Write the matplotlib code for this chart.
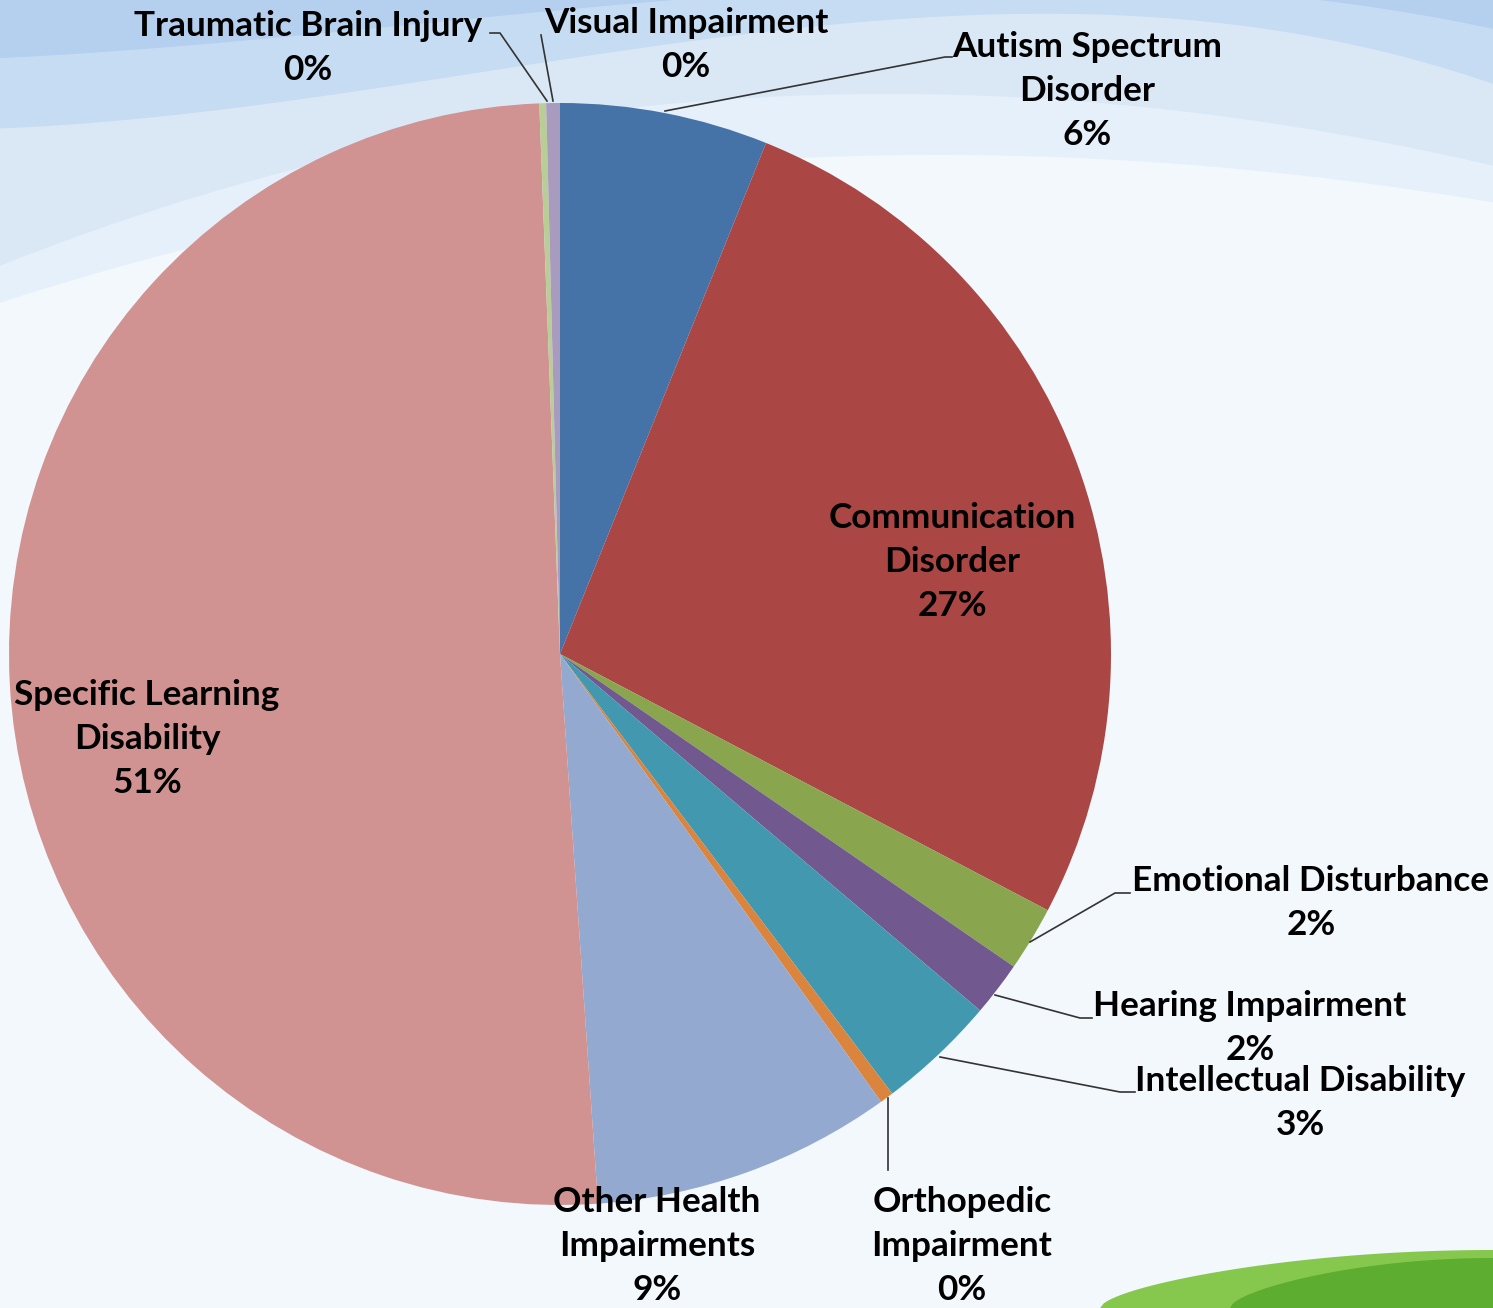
import numpy as np
import matplotlib.pyplot as plt
from matplotlib.patches import Polygon

# data (percent of students), clockwise from 12 o'clock
categories = ['Autism Spectrum\nDisorder', 'Communication\nDisorder', 'Emotional Disturbance',
              'Hearing Impairment', 'Intellectual Disability', 'Orthopedic\nImpairment',
              'Other Health\nImpairments', 'Specific Learning\nDisability',
              'Traumatic Brain Injury', 'Visual Impairment']
values = [6.1, 26.6, 1.9, 1.6, 3.5, 0.4, 8.8, 50.5, 0.2, 0.4]
pct_labels = ['6%', '27%', '2%', '2%', '3%', '0%', '9%', '51%', '0%', '0%']
colors = ['#4572A7', '#AA4643', '#89A54E', '#71588F', '#4198AF', '#DB843D',
          '#93A9CF', '#D19392', '#B9CD96', '#A99BBD']

W, H = 1493, 1308
plt.rcParams['font.family'] = ['Lato', 'DejaVu Sans']

fig = plt.figure(figsize=(W / 100, H / 100), dpi=100)
fig.patch.set_facecolor('#F3F8FD')
ax = fig.add_axes([0, 0, 1, 1])


def Y(y):
    return H - y


# soft wave background at the top (bottom edge of each band, pixel coords)
xs = np.linspace(0, W, 300)
bands = [
    ([0, 300, 750, 1150, 1493], [300, 230, 150, 170, 200], '#E6F0FA'),
    ([0, 300, 750, 1150, 1493], [265, 170, 95, 110, 165], '#DAE8F6'),
    ([0, 300, 750, 1100, 1493], [130, 95, 40, 10, 85], '#C6DCF2'),
    ([0, 300, 700, 1100, 1493], [60, 30, 5, -20, 30], '#B4D0EE'),
]
for cxs, cys, c in bands:
    p = np.polyfit(cxs, cys, 3)
    ax.fill_between(xs, Y(np.polyval(p, xs)), H, color=c, lw=0, zorder=0)

# green swoosh bottom right
gx = np.linspace(1100, W, 100)
gy = 1308 - 58 * np.sin((gx - 1100) / (W - 1100) * np.pi / 2) ** 0.6
ax.add_patch(Polygon(np.column_stack([np.r_[gx, W, 1100], np.r_[Y(gy), 0, 0]]),
                     closed=True, color='#86C84E', lw=0, zorder=0))
gx2 = np.linspace(1230, W, 100)
gy2 = 1308 - 50 * np.sin((gx2 - 1230) / (W - 1230) * np.pi / 2) ** 0.6
ax.add_patch(Polygon(np.column_stack([np.r_[gx2, W, 1230], np.r_[Y(gy2), 0, 0]]),
                     closed=True, color='#5DAE30', lw=0, zorder=0))

cx, cy, r = 560, 654, 551
ax.pie(values, colors=colors, startangle=90, counterclock=False,
       center=(cx, Y(cy)), radius=r, wedgeprops={'linewidth': 0}, frame=True)
ax.set_xlim(0, W)
ax.set_ylim(0, H)
ax.set_aspect('equal')
ax.axis('off')

tk = dict(fontsize=25.3, fontweight='bold', ha='center', va='center', linespacing=1.46, color='black')

# label centres (pixel coords)
label_pos = [(1087, 91), (952, 562), (1311, 903), (1250, 1028), (1300, 1103),
             (962, 1246), (657, 1246), (147, 739), (308, 48), (686, 45)]
for name, pct, (lx, ly) in zip(categories, pct_labels, label_pos):
    ax.text(lx, Y(ly), name + '\n' + pct, zorder=5, **tk)

# leader lines
leaders = [
    [(665, 111), (945, 57), (952, 57)],
    [(1030, 942), (1115, 893), (1130, 893)],
    [(995, 995), (1080, 1018), (1092, 1018)],
    [(940, 1057), (1120, 1092), (1135, 1092)],
    [(888, 1098), (888, 1170)],
    [(547, 101), (500, 33), (490, 33)],
    [(553, 101), (541, 35)],
]
for pts in leaders:
    px, py = zip(*pts)
    ax.plot(px, [Y(v) for v in py], color='#333333', lw=1.2, zorder=4)

fig.savefig('out.png', dpi=100, facecolor=fig.get_facecolor())
